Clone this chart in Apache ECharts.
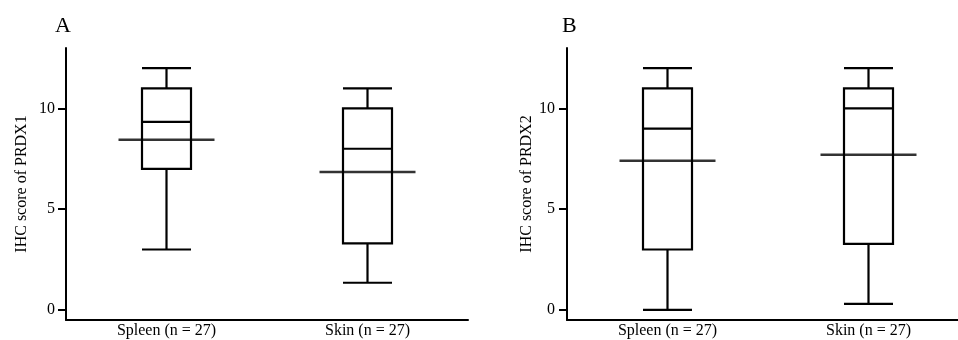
<!DOCTYPE html>
<html>
<head>
<meta charset="utf-8">
<script src="https://cdn.jsdelivr.net/npm/echarts@6/dist/echarts.min.js"></script>
<style>html,body{margin:0;padding:0;background:#fff}#c{width:958px;height:340px}</style>
</head>
<body>
<div id="c"></div>
<script>
var categories = ['Spleen (n = 27)', 'Skin (n = 27)'];
// [min, Q1, median, Q3, max]
var prdx1Box = [[3, 7, 9.33, 11, 12], [1.35, 3.3, 8, 10, 11]];
var prdx1Mean = [8.45, 6.85];
var prdx2Box = [[0, 3, 9, 11, 12], [0.3, 3.28, 10, 11, 12]];
var prdx2Mean = [7.4, 7.7];
var yTicks = [0, 5, 10];
var panelLabels = ['A', 'B'];
var yNames = ['IHC score of PRDX1', 'IHC score of PRDX2'];

var FONT = '"Liberation Serif", "Times New Roman", serif';
var chart = echarts.init(document.getElementById('c'), null, {renderer: 'canvas'});

function xAxis(i) {
  return {
    type: 'category', gridIndex: i, data: categories,
    axisLine: {onZero: false, lineStyle: {color: '#000', width: 2}},
    axisTick: {show: false},
    axisLabel: {color: '#000', fontFamily: FONT, fontSize: 16, margin: 3}
  };
}
function yAxis(i, gap, margin) {
  return {
    type: 'value', gridIndex: i, min: -0.5, max: 13,
    name: yNames[i], nameLocation: 'middle', nameGap: gap,
    nameTextStyle: {color: '#000', fontFamily: FONT, fontSize: 16},
    axisLine: {show: true, lineStyle: {color: '#000', width: 2}},
    axisTick: {show: true, length: 8, lineStyle: {color: '#000', width: 2}, customValues: yTicks},
    axisLabel: {color: '#000', fontFamily: FONT, fontSize: 16, margin: margin, customValues: yTicks},
    splitLine: {show: false}
  };
}
function boxSeries(i, data) {
  return {
    type: 'boxplot', xAxisIndex: i, yAxisIndex: i, data: data,
    boxWidth: [49, 49],
    itemStyle: {color: 'rgba(0,0,0,0)', borderColor: '#000', borderWidth: 2.2},
    emphasis: {disabled: true}, silent: true
  };
}
function meanSeries(i, data) {
  return {
    type: 'scatter', xAxisIndex: i, yAxisIndex: i, data: data,
    symbol: 'rect', symbolSize: [96, 2.5],
    itemStyle: {color: '#000'}, silent: true, z: 5
  };
}

chart.setOption({
  animation: false,
  backgroundColor: '#fff',
  title: [
    {text: panelLabels[0], left: 50, top: 10, textStyle: {fontFamily: FONT, fontSize: 22, fontWeight: 'normal', color: '#000'}},
    {text: panelLabels[1], left: 557, top: 10, textStyle: {fontFamily: FONT, fontSize: 22, fontWeight: 'normal', color: '#000'}}
  ],
  grid: [
    {left: 66, top: 48, width: 402, height: 272, outerBoundsMode: 'none'},
    {left: 567, top: 48, width: 402, height: 272, outerBoundsMode: 'none'}
  ],
  xAxis: [xAxis(0), xAxis(1)],
  yAxis: [yAxis(0, 36, 11), yAxis(1, 32, 12)],
  series: [
    boxSeries(0, prdx1Box), meanSeries(0, prdx1Mean),
    boxSeries(1, prdx2Box), meanSeries(1, prdx2Mean)
  ]
});
</script>
</body>
</html>
